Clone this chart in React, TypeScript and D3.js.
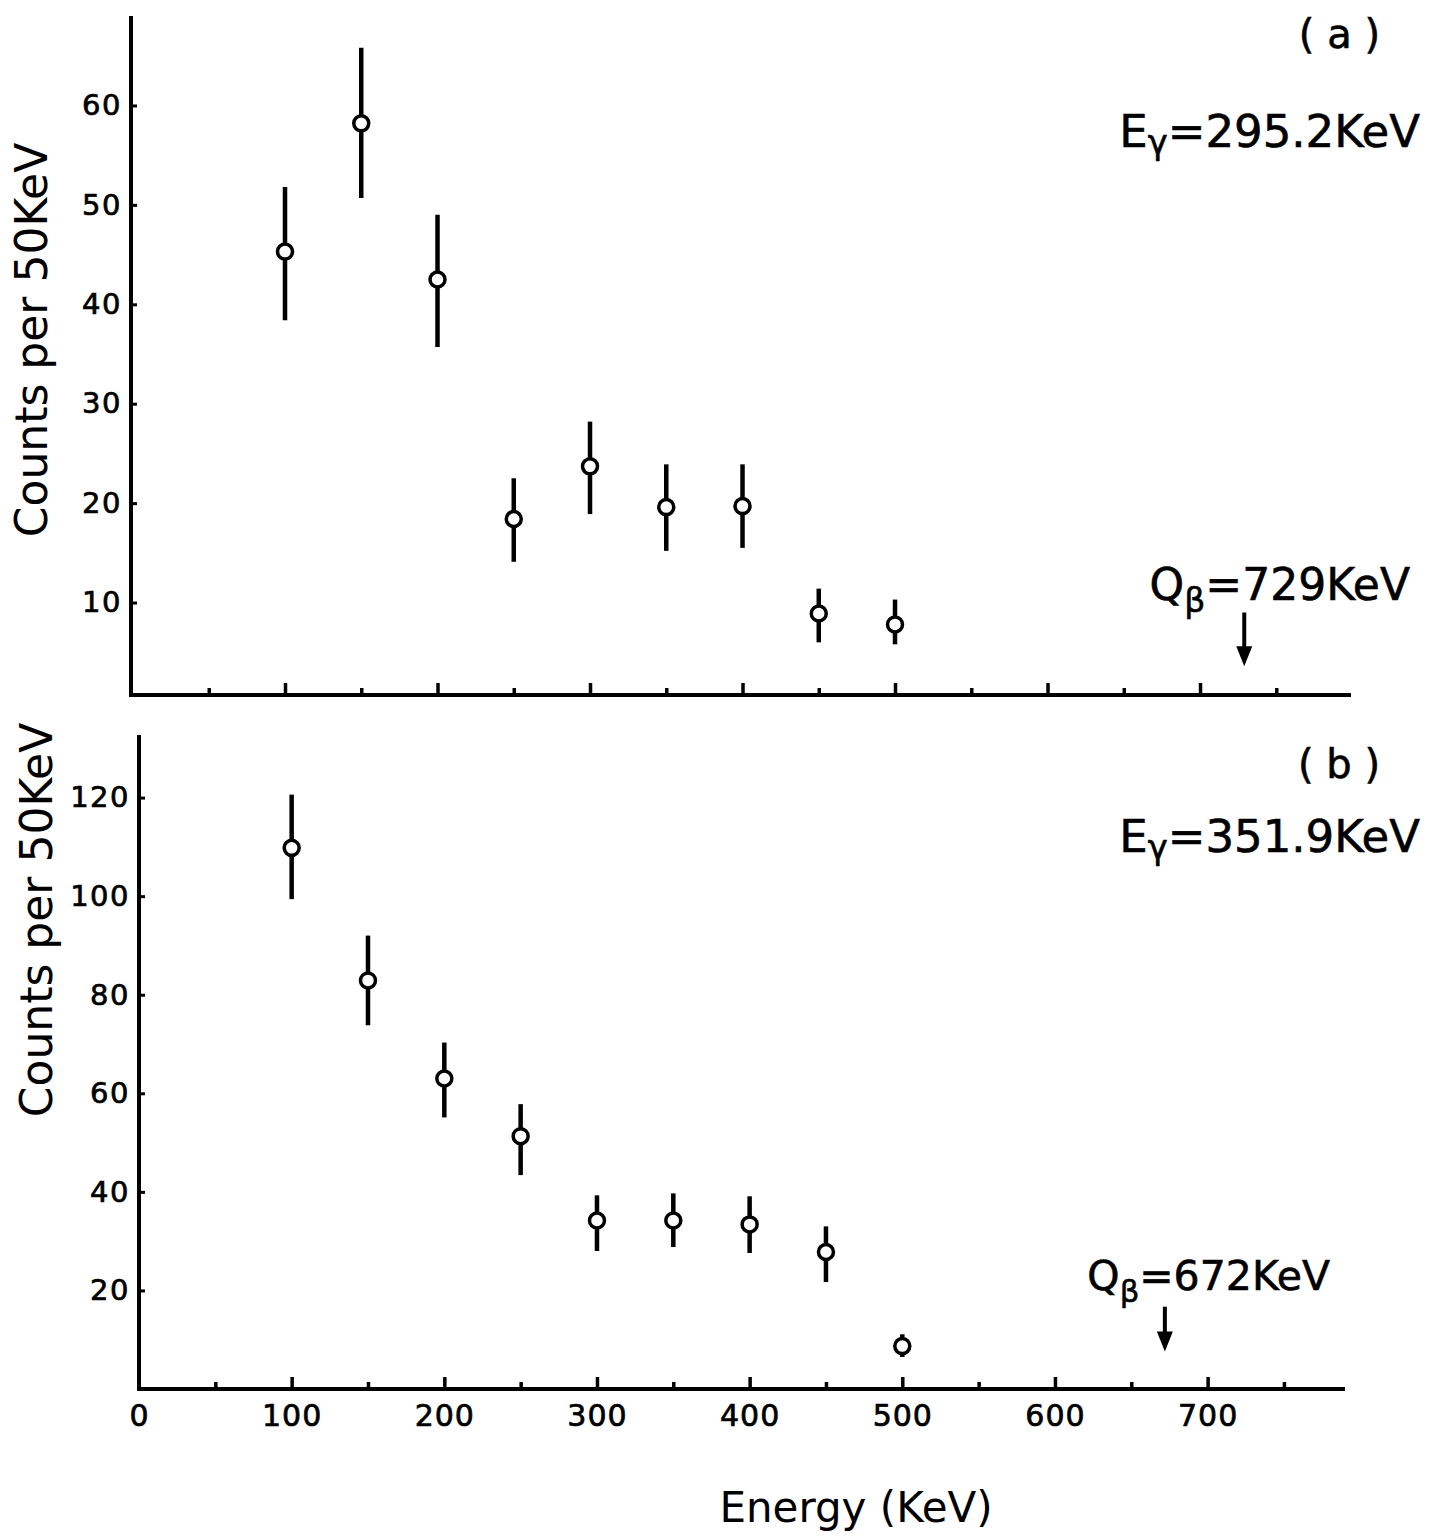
import { useEffect, useRef } from "react";
import * as d3 from "d3";

// bin centres (KeV)
const energies = [100, 150, 200, 250, 300, 350, 400, 450, 500];

// panel (a) Eγ = 295.2 KeV
const countsA = [45.3, 58.2, 42.5, 18.4, 23.7, 19.6, 19.7, 8.9, 7.8];
const lowA = [38.4, 50.7, 35.7, 14.1, 18.9, 15.2, 15.5, 6.0, 5.8];
const highA = [51.8, 65.8, 49.0, 22.5, 28.2, 23.9, 23.9, 11.4, 10.3];

// panel (b) Eγ = 351.9 KeV
const countsB = [109.8, 82.9, 63.0, 51.3, 34.2, 34.2, 33.4, 27.8, 8.7];
const lowB = [99.4, 73.8, 55.1, 43.4, 28.0, 28.8, 27.6, 21.7, 6.5];
const highB = [120.6, 92.0, 70.3, 57.8, 39.3, 39.7, 39.1, 33.0, 11.1];

const majorTicksX = [0, 100, 200, 300, 400, 500, 600, 700];
const minorTicksX = [50, 150, 250, 350, 450, 550, 650, 750];
const yTicksA = [10, 20, 30, 40, 50, 60];
const yTicksB = [20, 40, 60, 80, 100, 120];

const qBetaA = 729;
const qBetaB = 672;

const FONT = "'DejaVu Sans', sans-serif";

const App = () => {
  const svgRef = useRef(null);

  useEffect(() => {
    const svg = d3.select(svgRef.current);
    svg.selectAll("*").remove();

    const panels = [
      {
        counts: countsA,
        low: lowA,
        high: highA,
        x: d3.scaleLinear().domain([0, 799]).range([132.5, 1351]),
        y: d3.scaleLinear().domain([0.7, 69]).range([695, 16]),
        yTicks: yTicksA,
        showXLabels: false,
        q: qBetaA,
        arrow: [9, 3.6],
        yAxisX: 131,
      },
      {
        counts: countsB,
        low: lowB,
        high: highB,
        x: d3.scaleLinear().domain([0, 790]).range([139, 1345]),
        y: d3.scaleLinear().domain([0, 132.7]).range([1389, 735]),
        yTicks: yTicksB,
        showXLabels: true,
        q: qBetaB,
        arrow: [16.7, 7.6],
        yAxisX: 139,
      },
    ];

    panels.forEach((p) => {
      const g = svg.append("g");
      const y0 = p.y.range()[0];

      // x axis, major ticks pointing inward
      const xMajor = d3
        .axisBottom(p.x)
        .tickValues(p.showXLabels ? majorTicksX : majorTicksX.slice(1))
        .tickSizeInner(-12)
        .tickSizeOuter(0)
        .tickPadding(16)
        .tickFormat(p.showXLabels ? d3.format("d") : () => "");

      const gx = g
        .append("g")
        .attr("transform", `translate(0, ${y0})`)
        .call(xMajor);
      gx.select(".domain")
        .attr("d", `M${p.yAxisX},0H${p.x.range()[1]}`)
        .attr("stroke-width", 4);
      gx.selectAll(".tick line").attr("stroke-width", 3.5);
      gx.selectAll(".tick")
        .filter((d) => d === 0)
        .select("line")
        .remove();
      gx.selectAll("text")
        .attr("font-family", FONT)
        .attr("font-size", 30)
        .attr("fill", "#000")
        .attr("stroke", "#000")
        .attr("stroke-width", 0.7)
        .attr("letter-spacing", 1);

      const xMinor = d3
        .axisBottom(p.x)
        .tickValues(minorTicksX)
        .tickSizeInner(-7)
        .tickSizeOuter(0)
        .tickFormat(() => "");
      const gm = g
        .append("g")
        .attr("transform", `translate(0, ${y0})`)
        .call(xMinor);
      gm.select(".domain").remove();
      gm.selectAll(".tick line").attr("stroke-width", 3.5);

      // y axis with inward ticks
      const yAxis = d3
        .axisLeft(p.y)
        .tickValues(p.yTicks)
        .tickSizeInner(-6)
        .tickSizeOuter(0)
        .tickPadding(9)
        .tickFormat(d3.format("d"));
      const gy = g
        .append("g")
        .attr("transform", `translate(${p.yAxisX}, 0)`)
        .call(yAxis);
      gy.select(".domain")
        .attr("d", `M0,${p.y.range()[1]}V${y0 + 2}`)
        .attr("stroke-width", 4);
      gy.selectAll(".tick line").attr("stroke-width", 3);
      gy.selectAll("text")
        .attr("font-family", FONT)
        .attr("font-size", 29)
        .attr("fill", "#000")
        .attr("stroke", "#000")
        .attr("stroke-width", 0.7)
        .attr("letter-spacing", 1.5);

      // error bars
      g.append("g")
        .selectAll("line")
        .data(energies)
        .join("line")
        .attr("x1", (d) => p.x(d))
        .attr("x2", (d) => p.x(d))
        .attr("y1", (d, i) => p.y(p.high[i]))
        .attr("y2", (d, i) => p.y(p.low[i]))
        .attr("stroke", "#000")
        .attr("stroke-width", 4.5);

      // open circles
      g.append("g")
        .selectAll("circle")
        .data(energies)
        .join("circle")
        .attr("cx", (d) => p.x(d))
        .attr("cy", (d, i) => p.y(p.counts[i]))
        .attr("r", 7.5)
        .attr("fill", "#fff")
        .attr("stroke", "#000")
        .attr("stroke-width", 3.5);

      // Q-beta arrow
      const ax = p.x(p.q);
      const top = p.y(p.arrow[0]);
      const bot = p.y(p.arrow[1]);
      g.append("line")
        .attr("x1", ax)
        .attr("x2", ax)
        .attr("y1", top)
        .attr("y2", bot - 14)
        .attr("stroke", "#000")
        .attr("stroke-width", 4);
      g.append("path")
        .attr("d", `M${ax - 8},${bot - 20}L${ax + 8},${bot - 20}L${ax},${bot}Z`)
        .attr("fill", "#000");
    });

    // annotation text
    const txt = (x, y, size, anchor = "end") =>
      svg
        .append("text")
        .attr("x", x)
        .attr("y", y)
        .attr("font-family", FONT)
        .attr("font-size", size)
        .attr("text-anchor", anchor)
        .attr("fill", "#000");

    const label = (x, y, sub, rest, subChar, size, subDy) => {
      const t = txt(x, y, size).attr("stroke", "#000").attr("stroke-width", 0.6);
      t.append("tspan").text(sub);
      t.append("tspan")
        .attr("font-size", size * 0.75)
        .attr("dy", subDy)
        .text(subChar);
      t.append("tspan").attr("dy", -subDy).text(rest);
    };

    txt(1380, 48, 40).attr("stroke", "#000").attr("stroke-width", 0.6).text("( a )");
    label(1420, 147, "E", "=295.2KeV", "γ", 45, 7);
    label(1410, 600, "Q", "=729KeV", "β", 44, 12);

    txt(1380, 778, 40).attr("stroke", "#000").attr("stroke-width", 0.6).text("( b )");
    label(1420, 852, "E", "=351.9KeV", "γ", 45, 7);
    label(1330, 1290, "Q", "=672KeV", "β", 41, 12);

    // y axis titles
    [
      [47, 340],
      [52, 920],
    ].forEach(([x, y]) => {
      txt(x, y, 44, "middle")
        .attr("transform", `rotate(-90, ${x}, ${y})`)
        .text("Counts per 50KeV");
    });

    // x axis title
    txt(856, 1522, 42, "middle").text("Energy (KeV)");
  }, []);

  return (
    <svg
      ref={svgRef}
      width={1447}
      height={1539}
      style={{ position: "absolute", left: 0, top: 0, background: "#fff" }}
    />
  );
};

export default App;
